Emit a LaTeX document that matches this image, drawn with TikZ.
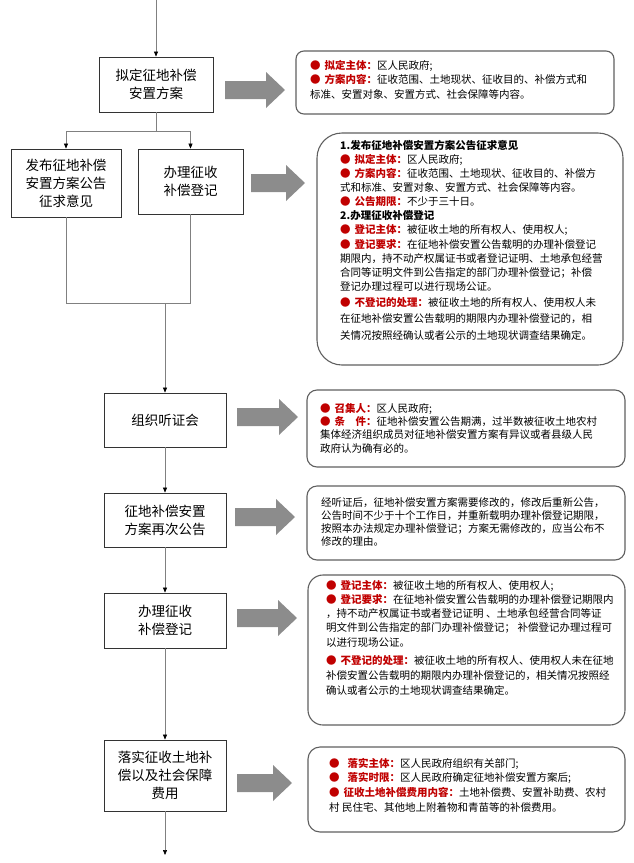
\documentclass[tikz,border=0pt]{standalone}
\usepackage{fontspec}
\setmainfont{Noto Sans CJK SC}
\usetikzlibrary{arrows.meta}

\definecolor{keyred}{RGB}{192,0,0}
\definecolor{linegray}{RGB}{128,128,128}
\definecolor{arrowgray}{RGB}{140,140,140}
\definecolor{framegray}{RGB}{95,95,95}

\newcommand{\keyitem}[1]{{\color{keyred}●\hspace{4pt}\textbf{#1}}}

\tikzset{
	stepbox/.style={draw=black!80, line width=0.8pt, fill=white, align=center,
		inner sep=0pt, font=\fontsize{13.5}{18}\selectfont},
	flow/.style={draw=linegray, line width=0.6pt, -{Triangle[length=5pt,width=4pt,color=black]}},
	link/.style={draw=linegray, line width=0.6pt},
	noteframe/.style={draw=framegray, line width=1.1pt},
	notetext/.style={anchor=north west, inner sep=0pt, align=left},
}

\begin{document}
\begin{tikzpicture}[x=1pt,y=-1pt]
		\useasboundingbox (0,0) rectangle (634,863);

		% left column of steps
		\node[stepbox, minimum width=114, minimum height=55] (draft) at (156,84.5) {拟定征地补偿\\安置方案};
		\node[stepbox, minimum width=110, minimum height=68] (publish) at (66,183) {发布征地补偿\\安置方案公告\\征求意见};
		\node[stepbox, minimum width=105, minimum height=65] (register) at (190.5,181.5) {办理征收\\补偿登记};
		\node[stepbox, minimum width=122, minimum height=54] (hearing) at (165,420) {组织听证会};
		\node[stepbox, minimum width=122, minimum height=54] (repub) at (165,520) {征地补偿安置\\方案再次公告};
		\node[stepbox, minimum width=122, minimum height=55] (register2) at (165,620.5) {办理征收\\补偿登记};
		\node[stepbox, minimum width=122, minimum height=71] (settle) at (165,775.5) {落实征收土地补\\偿以及社会保障\\费用};

		\coordinate (start) at (156,0);
		\coordinate (split) at (156,131);
		\coordinate (merge) at (165,303);
		\coordinate (finish) at (165,855);

		\draw[flow] (start) -- (draft);
		\draw[link] (draft) -- (split);
		\draw[flow] (split) -| (publish);
		\draw[flow] (split) -| (register);
		\draw[link] (publish) |- (merge);
		\draw[link] (register) |- (merge);
		\draw[flow] (merge) -- (hearing);
		\draw[flow] (hearing) -- (repub);
		\draw[flow] (repub) -- (register2);
		\draw[flow] (register2) -- (settle);
		\draw[flow] (settle) -- (finish);

		% big gray arrows
		\foreach \ya/\xa/\xb in {90/225/285, 183/251/305, 417/237/298, 517/235/295, 618/237/297, 783/237/292}
			\fill[arrowgray] (\xa,\ya-9) -- (\xb-19,\ya-9) -- (\xb-19,\ya-18) -- (\xb,\ya)
				-- (\xb-19,\ya+18) -- (\xb-19,\ya+9) -- (\xa,\ya+9) -- cycle;

		% notes on the right
		\draw[noteframe, rounded corners=8pt] (296,51) rectangle (614,114);
		\node[notetext, font=\fontsize{10.5}{14.5}\selectfont] (note1) at (310,60) {%
			\keyitem{拟定主体：}区人民政府;\\
			\keyitem{方案内容：}征收范围、土地现状、征收目的、补偿方式和\\
			标准、安置对象、安置方式、社会保障等内容。};

		\draw[noteframe, rounded corners=25pt] (317,133) rectangle (623,365);
		\node[notetext, font=\fontsize{10.5}{14.1}\selectfont] (note2) at (340,140) {%
			\textbf{1.发布征地补偿安置方案公告征求意见}\\
			\keyitem{拟定主体：}区人民政府;\\
			\keyitem{方案内容：}征收范围、土地现状、征收目的、补偿方\\
			式和标准、安置对象、安置方式、社会保障等内容。\\
			\keyitem{公告期限：}不少于三十日。\\
			\textbf{2.办理征收补偿登记}\\
			\keyitem{登记主体：}被征收土地的所有权人、使用权人;\\
			\keyitem{登记要求：}在征地补偿安置公告载明的办理补偿登记\\
			期限内，持不动产权属证书或者登记证明、土地承包经营\\
			合同等证明文件到公告指定的部门办理补偿登记；补偿\\
			登记办理过程可以进行现场公证。\\[1.6pt]
			\keyitem{不登记的处理：}被征收土地的所有权人、使用权人未\\[2.5pt]
			在征地补偿安置公告载明的期限内办理补偿登记的，相\\[2.5pt]
			关情况按照经确认或者公示的土地现状调查结果确定。};

		\draw[noteframe, rounded corners=10pt] (307,390) rectangle (625,467);
		\node[notetext, font=\fontsize{10.5}{13.3}\selectfont] (note3) at (320,403) {%
			\keyitem{召集人：}区人民政府;\\
			\keyitem{条　件：}征地补偿安置公告期满，过半数被征收土地农村\\
			集体经济组织成员对征地补偿安置方案有异议或者县级人民\\
			政府认为确有必的。};

		\draw[noteframe, rounded corners=10pt] (307,486) rectangle (625,560);
		\node[notetext, font=\fontsize{10.5}{13.3}\selectfont] (note4) at (321,497) {%
			经听证后，征地补偿安置方案需要修改的，修改后重新公告，\\
			公告时间不少于十个工作日，并重新载明办理补偿登记期限，\\
			按照本办法规定办理补偿登记；方案无需修改的，应当公布不\\
			修改的理由。};

		\draw[noteframe, rounded corners=15pt] (308,575) rectangle (625,725);
		\node[notetext, font=\fontsize{10.5}{14.2}\selectfont] (note5) at (326,580) {%
			\keyitem{登记主体：}被征收土地的所有权人、使用权人;\\
			\keyitem{登记要求：}在征地补偿安置公告载明的办理补偿登记期限内\\
			，持不动产权属证书或者登记证明 、土地承包经营合同等证\\
			明文件到公告指定的部门办理补偿登记； 补偿登记办理过程可\\
			以进行现场公证。\\[4pt]
			\keyitem{不登记的处理：}被征收土地的所有权人、使用权人未在征地\\[0.8pt]
			补偿安置公告载明的期限内办理补偿登记的，相关情况按照经\\[0.8pt]
			确认或者公示的土地现状调查结果确定。};

		\draw[noteframe, rounded corners=12pt] (308,747) rectangle (625,832);
		\node[notetext, font=\fontsize{10.5}{14.6}\selectfont] (note6) at (329,758) {%
			\keyitem{\hspace{4pt}落实主体：}区人民政府组织有关部门;\\
			\keyitem{\hspace{4pt}落实时限：}区人民政府确定征地补偿安置方案后;\\
			\keyitem{征收土地补偿费用内容：}土地补偿费、安置补助费、农村\\
			村 民住宅、其他地上附着物和青苗等的补偿费用。};
	\end{tikzpicture}
\end{document}
